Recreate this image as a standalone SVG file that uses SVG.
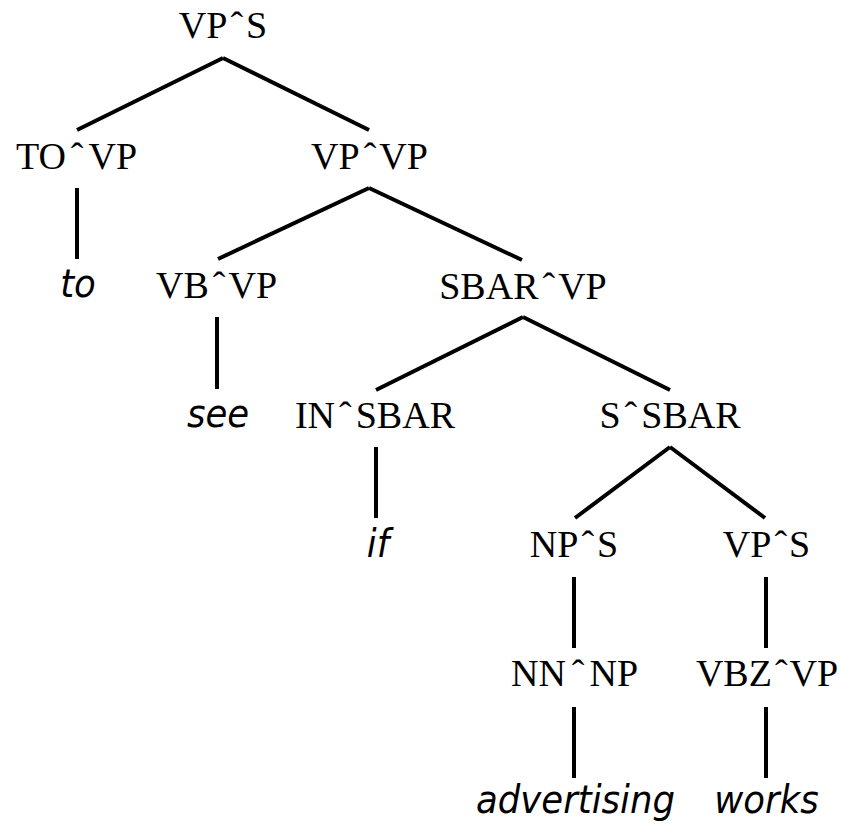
<svg xmlns="http://www.w3.org/2000/svg" width="842" height="824" viewBox="0 0 842 824">
<style>
.cat{font-family:"Liberation Serif","Times New Roman",serif;font-size:38px;fill:#000;text-anchor:middle}
.word{font-family:"DejaVu Sans","Liberation Sans",sans-serif;font-style:italic;font-size:35.5px;fill:#000;text-anchor:middle}
.edge{stroke:#000;stroke-width:4;fill:none;stroke-linecap:butt}
</style>
<rect width="842" height="824" fill="#fff"/>
<g id="connectors">
<line class="edge" x1="223" y1="58" x2="77" y2="130"/>
<line class="edge" x1="223" y1="58" x2="369" y2="130"/>
<line class="edge" x1="77" y1="188" x2="77" y2="259"/>
<line class="edge" x1="369" y1="188" x2="218" y2="259"/>
<line class="edge" x1="369" y1="188" x2="522" y2="260"/>
<line class="edge" x1="217" y1="317" x2="217" y2="389"/>
<line class="edge" x1="523" y1="317" x2="376" y2="390"/>
<line class="edge" x1="523" y1="317" x2="670" y2="390"/>
<line class="edge" x1="376" y1="447" x2="376" y2="518"/>
<line class="edge" x1="670" y1="447" x2="575" y2="518"/>
<line class="edge" x1="670" y1="447" x2="765" y2="518"/>
<line class="edge" x1="574" y1="577" x2="574" y2="648"/>
<line class="edge" x1="766" y1="577" x2="766" y2="648"/>
<line class="edge" x1="574" y1="707" x2="574" y2="778"/>
<line class="edge" x1="766" y1="707" x2="766" y2="778"/>
</g>
<g id="n-root"><text class="cat" x="223" y="38">VP<tspan dx="3">ˆ</tspan><tspan dx="3">S</tspan></text></g>
<g id="n-to-vp"><text class="cat" x="76.5" y="169">TO<tspan dx="5">ˆ</tspan><tspan dx="5">VP</tspan></text></g>
<g id="n-vp-vp"><text class="cat" x="369.5" y="169">VP<tspan dx="4">ˆ</tspan><tspan dx="3">VP</tspan></text></g>
<g id="w-to"><text class="word" transform="translate(78 297) scale(1 1.08)">to</text></g>
<g id="n-vb-vp"><text class="cat" x="216.5" y="298">VB<tspan dx="4">ˆ</tspan><tspan dx="3">VP</tspan></text></g>
<g id="n-sbar-vp"><text class="cat" x="523" y="299">SBAR<tspan dx="4">ˆ</tspan><tspan dx="3">VP</tspan></text></g>
<g id="w-see"><text class="word" transform="translate(218 427) scale(1 1.08)">see</text></g>
<g id="n-in-sbar"><text class="cat" x="375" y="428">IN<tspan dx="4">ˆ</tspan><tspan dx="4">SBAR</tspan></text></g>
<g id="n-s-sbar"><text class="cat" x="670" y="428">S<tspan dx="4">ˆ</tspan><tspan dx="4">SBAR</tspan></text></g>
<g id="w-if"><text class="word" transform="translate(378 557) scale(1 1.08)">if</text></g>
<g id="n-np-s"><text class="cat" x="574" y="557">NP<tspan dx="3">ˆ</tspan><tspan dx="3">S</tspan></text></g>
<g id="n-vp-s"><text class="cat" x="766.5" y="557">VP<tspan dx="3">ˆ</tspan><tspan dx="2">S</tspan></text></g>
<g id="n-nn-np"><text class="cat" x="574.5" y="686">NN<tspan dx="6">ˆ</tspan><tspan dx="5">NP</tspan></text></g>
<g id="n-vbz-vp"><text class="cat" x="767" y="686">VBZ<tspan dx="3">ˆ</tspan><tspan dx="2">VP</tspan></text></g>
<g id="w-advertising"><text class="word" transform="translate(575.5 813) scale(1 1.08)">advertising</text></g>
<g id="w-works"><text class="word" transform="translate(766.5 813) scale(1 1.08)">works</text></g>
</svg>
